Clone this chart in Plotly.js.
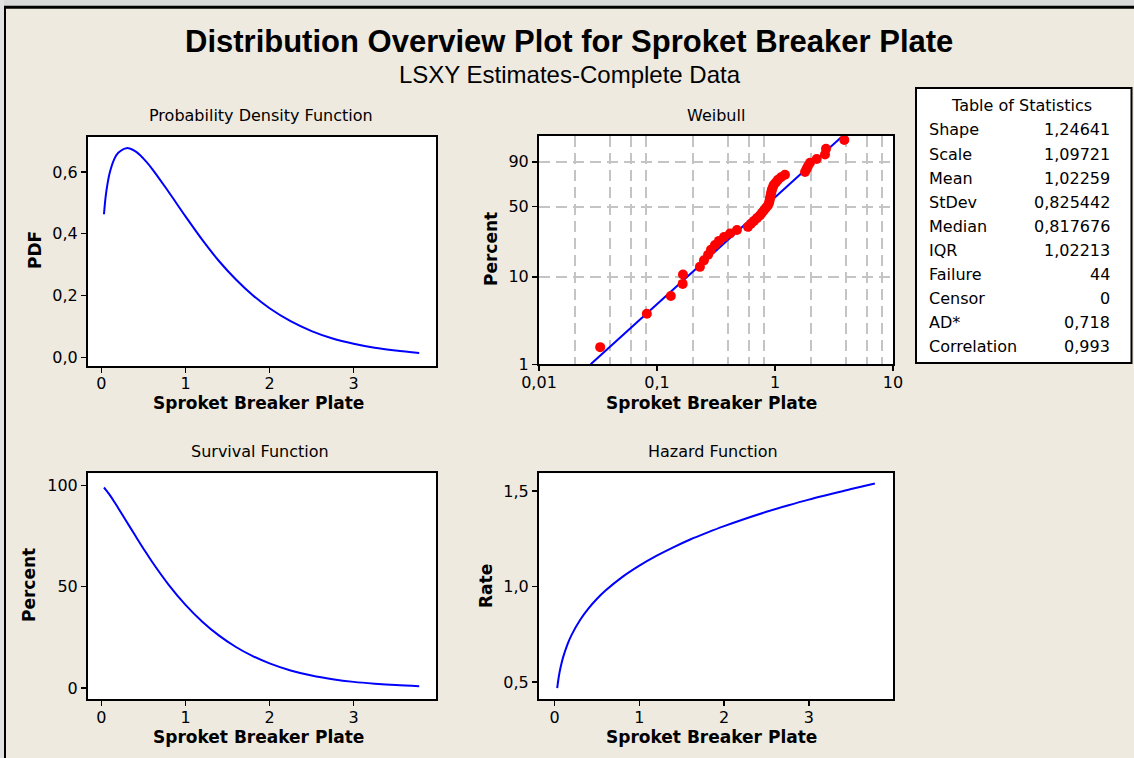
<!DOCTYPE html>
<html><head><meta charset="utf-8">
<script src="https://cdn.plot.ly/plotly-3.0.1.min.js"></script>
<style>html,body{margin:0;padding:0;background:#eeeae0;} #chart{width:1134px;height:758px;}</style>
</head><body><div id="chart"></div>
<script>
// ---- data ----
const curveX = [0.03,0.05,0.07,0.1,0.15,0.2,0.3,0.4,0.5,0.6,0.8,1.0,1.2,1.4,1.6,1.8,2.0,2.25,2.5,2.75,3.0,3.25,3.5,3.78];
const pdfVals = [0.463,0.520,0.558,0.599,0.640,0.662,0.677,0.667,0.643,0.611,0.535,0.456,0.380,0.311,0.252,0.201,0.159,0.117,0.085,0.061,0.044,0.031,0.022,0.014];
const survivalPct = [98.9,97.9,96.8,95.1,92.0,88.7,82.0,75.3,68.7,62.4,50.9,41.0,32.7,25.8,20.2,15.7,12.1,8.6,6.1,4.3,3.0,2.1,1.4,0.9];
const hazardVals = [0.468,0.531,0.577,0.630,0.696,0.747,0.825,0.886,0.936,0.979,1.051,1.110,1.161,1.206,1.247,1.283,1.317,1.356,1.392,1.425,1.456,1.484,1.512,1.541];

const weibullX = [0.033,0.082,0.131,0.165,0.166,0.231,0.250,0.271,0.287,0.310,0.335,0.370,0.416,0.476,0.590,0.626,0.664,0.704,0.746,0.776,0.807,0.839,0.872,0.890,0.899,0.907,0.916,0.925,0.934,0.943,0.962,0.981,1.020,1.060,1.124,1.215,1.796,1.849,1.904,1.980,2.256,2.653,2.705,3.866];
const weibullPct = [1.58,3.83,6.08,8.33,10.59,12.84,15.09,17.34,19.59,21.85,24.10,26.35,28.60,30.86,33.11,35.36,37.61,39.86,42.12,44.37,46.62,48.87,51.13,53.38,55.63,57.88,60.14,62.39,64.64,66.89,69.14,71.40,73.65,75.90,78.15,80.41,82.66,84.91,87.16,89.41,91.67,93.92,96.17,98.42];
const fitX = [0.0274, 3.74];
const fitPct = [1, 99];

const weibullYTicks = [1, 10, 50, 90];
const weibullYTickText = ['1', '10', '50', '90'];
const weibullXTicks = [0.01, 0.1, 1, 10];
const weibullXTickText = ['0,01', '0,1', '1', '10'];
const weibullGridX = [0.02,0.04,0.06,0.08,0.2,0.4,0.6,0.8,2,4,6,8];

const statLabels = ['Shape','Scale','Mean','StDev','Median','IQR','Failure','Censor','AD*','Correlation'];
const statValues = ['1,24641','1,09721','1,02259','0,825442','0,817676','1,02213','44','0','0,718','0,993'];

// ---- layout helpers ----
const W = 1134, H = 758;
const fx = v => v / W;
const fy = v => 1 - v / H;
const T = p => Math.log(-Math.log(1 - p / 100)); // Weibull probability scale

const BLUE = '#0000ff', RED = '#ff0000';
const tickFont = {family: 'DejaVu Sans, Verdana, sans-serif', size: 16, color: '#000'};
const baseAxis = {
  showline: true, linecolor: '#000', linewidth: 2, mirror: true,
  ticks: 'outside', ticklen: 5, tickwidth: 1.5, tickcolor: '#000',
  showgrid: false, zeroline: false, tickfont: tickFont, fixedrange: true
};
const xAxisBase = Object.assign({}, baseAxis, {ticklabelstandoff: -3});

const traces = [
  {x: curveX, y: pdfVals, xaxis: 'x', yaxis: 'y', type: 'scatter', mode: 'lines',
   line: {color: BLUE, width: 2, shape: 'spline'}, hoverinfo: 'skip'},
  {x: fitX, y: fitPct.map(T), xaxis: 'x2', yaxis: 'y2', type: 'scatter', mode: 'lines',
   line: {color: BLUE, width: 2}, hoverinfo: 'skip'},
  {x: weibullX, y: weibullPct.map(T), xaxis: 'x2', yaxis: 'y2', type: 'scatter', mode: 'markers',
   marker: {color: RED, size: 10}, hoverinfo: 'skip'},
  {x: curveX, y: survivalPct, xaxis: 'x3', yaxis: 'y3', type: 'scatter', mode: 'lines',
   line: {color: BLUE, width: 2, shape: 'spline'}, hoverinfo: 'skip'},
  {x: curveX, y: hazardVals, xaxis: 'x4', yaxis: 'y4', type: 'scatter', mode: 'lines',
   line: {color: BLUE, width: 2, shape: 'spline'}, hoverinfo: 'skip'}
];

const gridStyle = {gridcolor: '#c4c4c4', gridwidth: 2, griddash: '11px,6px'};

const layout = {
  width: W, height: H,
  margin: {l: 0, r: 0, t: 0, b: 0},
  paper_bgcolor: '#eeeae0', plot_bgcolor: '#ffffff',
  showlegend: false, separators: ',.',
  font: {family: 'DejaVu Sans, sans-serif', color: '#000'},
  xaxis: Object.assign({}, xAxisBase, {domain: [fx(88), fx(436)], anchor: 'y', range: [-0.16, 3.98], tickvals: [0,1,2,3]}),
  yaxis: Object.assign({}, baseAxis, {domain: [fy(366), fy(137)], anchor: 'x', range: [-0.028, 0.713], tickvals: [0,0.2,0.4,0.6], tickformat: '.1f'}),
  xaxis2: Object.assign({}, xAxisBase, {domain: [fx(539), fx(893)], anchor: 'y2', type: 'log', range: [-2, 1],
    tickmode: 'array', tickvals: weibullXTicks, ticktext: weibullXTickText,
    minor: Object.assign({tickmode: 'array', tickvals: weibullGridX, showgrid: true, ticks: ''}, gridStyle)}),
  yaxis2: Object.assign({}, baseAxis, gridStyle, {domain: [fy(364.3), fy(136)], anchor: 'x2', range: [T(1), T(99)],
    tickmode: 'array', tickvals: weibullYTicks.map(T), ticktext: weibullYTickText, showgrid: true}),
  xaxis3: Object.assign({}, xAxisBase, {domain: [fx(88), fx(436)], anchor: 'y3', range: [-0.16, 3.98], tickvals: [0,1,2,3]}),
  yaxis3: Object.assign({}, baseAxis, {domain: [fy(699.3), fy(473.3)], anchor: 'x3', range: [-5.6, 105.9], tickvals: [0,50,100]}),
  xaxis4: Object.assign({}, xAxisBase, {domain: [fx(539), fx(893)], anchor: 'y4', range: [-0.185, 3.994], tickvals: [0,1,2,3]}),
  yaxis4: Object.assign({}, baseAxis, {domain: [fy(699.3), fy(473.3)], anchor: 'x4', range: [0.409, 1.594], tickvals: [0.5,1.0,1.5], tickformat: '.1f'}),
  shapes: [
    {type: 'rect', xref: 'paper', yref: 'paper', x0: 0, x1: 1, y0: fy(6), y1: 1, fillcolor: '#d9d9d9', line: {width: 0}, layer: 'below'},
    {type: 'rect', xref: 'paper', yref: 'paper', x0: 0, x1: fx(4), y0: 0, y1: 1, fillcolor: '#e2e2e2', line: {width: 0}, layer: 'below'},
    {type: 'line', xref: 'paper', yref: 'paper', x0: fx(4), x1: 1, y0: fy(7.2), y1: fy(7.2), line: {color: '#000', width: 3}},
    {type: 'line', xref: 'paper', yref: 'paper', x0: fx(5), x1: fx(5), y0: 0, y1: fy(6), line: {color: '#000', width: 2}},
    {type: 'rect', xref: 'paper', yref: 'paper', x0: fx(916), x1: fx(1131.5), y0: fy(363), y1: fy(88), fillcolor: '#ffffff', line: {color: '#000', width: 2}}
  ],
  annotations: []
};

function addText(text, x, y, font, opts) {
  layout.annotations.push(Object.assign({
    text: text, xref: 'paper', yref: 'paper', x: fx(x), y: fy(y),
    xanchor: 'center', yanchor: 'middle', showarrow: false, font: font
  }, opts || {}));
}

const titleFont = {family: 'Liberation Sans, Arial, sans-serif', size: 31, color: '#000'};
addText('<b>Distribution Overview Plot for Sproket Breaker Plate</b>', 569, 41, titleFont);
addText('LSXY Estimates-Complete Data', 570, 74, {family: 'Liberation Sans, Arial, sans-serif', size: 24, color: '#000'});

const panelFont = {family: 'DejaVu Sans, Verdana, sans-serif', size: 16, color: '#000'};
addText('Probability Density Function', 261, 116, panelFont);
addText('Weibull', 716, 116, panelFont);
addText('Survival Function', 260, 451, panelFont);
addText('Hazard Function', 713, 451, panelFont);

const axTitleFont = {family: 'DejaVu Sans, Verdana, sans-serif', size: 17, color: '#000'};
addText('<b>Sproket Breaker Plate</b>', 258, 403, axTitleFont);
addText('<b>Sproket Breaker Plate</b>', 711, 403, axTitleFont);
addText('<b>Sproket Breaker Plate</b>', 258, 737, axTitleFont);
addText('<b>Sproket Breaker Plate</b>', 711, 737, axTitleFont);
addText('<b>PDF</b>', 35, 250, axTitleFont, {textangle: -90});
addText('<b>Percent</b>', 491, 249, axTitleFont, {textangle: -90});
addText('<b>Percent</b>', 29, 585, axTitleFont, {textangle: -90});
addText('<b>Rate</b>', 486, 586, axTitleFont, {textangle: -90});

const tableFont = {family: 'DejaVu Sans, Verdana, sans-serif', size: 16, color: '#000'};
addText('Table of Statistics', 1021.5, 105.5, tableFont);
statLabels.forEach((lab, i) => {
  const y = 130 + i * 24.05;
  addText(lab, 926.5, y, tableFont, {xanchor: 'left'});
  addText(statValues[i], 1112, y, tableFont, {xanchor: 'right'});
});

Plotly.newPlot('chart', traces, layout, {displayModeBar: false, staticPlot: true});
</script>
</body></html>
